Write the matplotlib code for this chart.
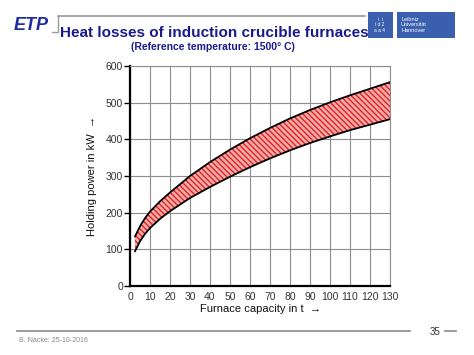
import matplotlib
matplotlib.use("Agg")
import matplotlib.pyplot as plt
from matplotlib.patches import Rectangle
from matplotlib.lines import Line2D

plt.rcParams['font.family'] = ['Liberation Sans', 'DejaVu Sans']
plt.rcParams['hatch.linewidth'] = 1.0

# values
capacity = [2.5, 5, 7.5, 10, 15, 20, 30, 40, 50, 60, 70, 80, 90, 100, 110, 120, 130]
upper_kw = [135, 163, 185, 203, 231, 255, 300, 338, 372, 403, 431, 457, 480, 501, 520, 538, 556]
lower_kw = [95, 122, 142, 158, 183, 204, 240, 270, 298, 324, 348, 370, 390, 408, 425, 440, 455]
x_ticks = list(range(0, 131, 10))
y_ticks = list(range(0, 601, 100))

W, H = 474, 355
fig = plt.figure(figsize=(W / 100, H / 100), dpi=100)
ax = fig.add_axes([130 / W, 1 - 286 / H, 260 / W, 220 / H])


def px(x, y):
    return x / W, 1 - y / H


ax.fill_between(capacity, lower_kw, upper_kw, facecolor='#f4acac',
                edgecolor='#e0231f', hatch='\\' * 6, linewidth=0, zorder=2)
ax.plot(capacity, upper_kw, color='black', lw=1.3, zorder=3)
ax.plot(capacity, lower_kw, color='black', lw=1.3, zorder=3)

ax.set_xlim(0, 130)
ax.set_ylim(0, 600)
ax.set_xticks(x_ticks)
ax.set_yticks(y_ticks)
ax.grid(True, color='#8c8c8c', lw=0.8, zorder=1)
ax.set_axisbelow(True)
for s in ['top', 'right']:
    ax.spines[s].set_color('#8c8c8c')
    ax.spines[s].set_linewidth(0.8)
for s in ['left', 'bottom']:
    ax.spines[s].set_linewidth(1.6)
ax.tick_params(axis='y', length=4, width=1, labelsize=7.5, labelcolor='#333333', pad=1)
ax.tick_params(axis='x', length=0, labelsize=7.5, labelcolor='#333333', pad=4)

ax.set_xlabel('Furnace capacity in t  \u2192', fontsize=8, labelpad=2, color='#111111')
ax.set_ylabel('Holding power in kW  \u2192', fontsize=8, labelpad=6, color='#111111')

# header
fig.add_artist(Line2D([58 / W, 365 / W], [1 - 16 / H, 1 - 16 / H], color='#9a9a9a', lw=1.2))
fig.add_artist(Line2D([52 / W, 58 / W, 58 / W], [1 - 32 / H, 1 - 32 / H, 1 - 16 / H],
                      color='#9a9a9a', lw=1.0))
fig.text(*px(14, 25), 'ETP', fontsize=13, fontweight='bold', style='italic',
         color='#1f2a9e', va='center', ha='left')
fig.text(*px(214, 33), 'Heat losses of induction crucible furnaces', fontsize=11,
         fontweight='bold', color='#1a1a8c', ha='center', va='center')
fig.text(*px(213, 47), '(Reference temperature: 1500\u00b0 C)', fontsize=7.5,
         fontweight='bold', color='#1a1a8c', ha='center', va='center')

fig.add_artist(Rectangle(px(368, 38), 25 / W, 26 / H, transform=fig.transFigure,
                         facecolor='#3a5fae', edgecolor='none'))
fig.text(*px(380, 25), 'i  i\ni d 2\na a 4', fontsize=3.5, color='white',
         ha='center', va='center', linespacing=1.1)
fig.add_artist(Rectangle(px(397, 38), 58 / W, 26 / H, transform=fig.transFigure,
                         facecolor='#3a5fae', edgecolor='none'))
fig.text(*px(401, 25), 'Leibniz\nUniversit\u00e4t\nHannover', fontsize=4, color='white',
         ha='left', va='center', linespacing=1.1)

# footer
fig.add_artist(Line2D([17 / W, 410 / W], [1 - 331 / H, 1 - 331 / H], color='#8a8a8a', lw=1.2))
fig.add_artist(Line2D([445 / W, 456 / W], [1 - 331 / H, 1 - 331 / H], color='#8a8a8a', lw=1.2))
fig.text(*px(435, 332), '35', fontsize=7, color='#333333', ha='center', va='center')
fig.text(*px(19, 340), 'B. Nacke: 25-10-2016', fontsize=5, color='#888888', ha='left', va='center')

fig.savefig('out.png', dpi=100)
